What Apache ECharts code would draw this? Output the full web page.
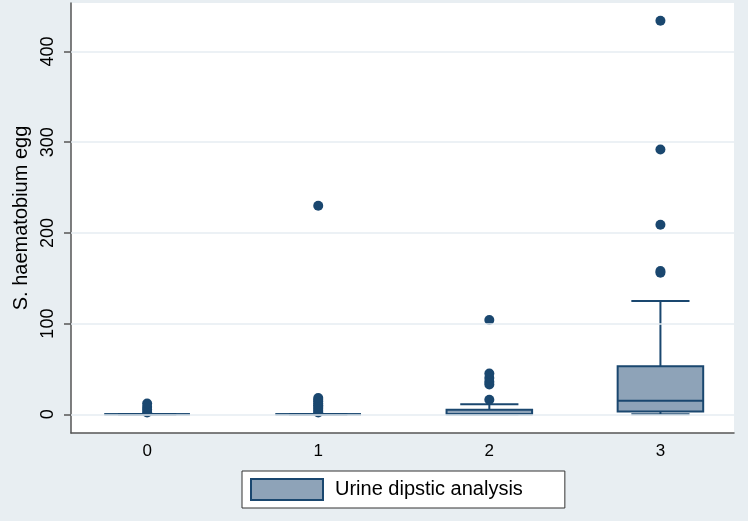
<!DOCTYPE html>
<html>
<head>
<meta charset="utf-8">
<script src="https://cdn.jsdelivr.net/npm/echarts@6/dist/echarts.min.js"></script>
<style>
  html, body { margin: 0; padding: 0; background: #e8eef2; }
  #chart { width: 748px; height: 521px; }
</style>
</head>
<body>
<div id="chart"></div>
<script>
// ---- Data ----
const categories = [0, 1, 2, 3];
// [min(whisker), Q1, median, Q3, max(whisker)]
const boxStats = [
  [0, 0, 0, 0, 0],
  [0, 0, 0, 0, 0],
  [0, 0, 0, 5, 11],
  [0, 3, 15, 53, 125]
];
const outliers0 = [2, 5, 8, 12];
const outliers1 = [2, 4, 6, 8, 10, 12, 14, 16, 18, 230];
const outliers2 = [16, 33, 36, 40, 45, 104];
const outliers3 = [156, 158, 209, 292, 434];
const yTicks = [0, 100, 200, 300, 400];
const seriesName = 'Urine dipstic analysis';
const yTitle = 'S. haematobium egg';

const outlierLists = [outliers0, outliers1, outliers2, outliers3];
const boxData = categories.map((c, i) => [c].concat(boxStats[i]));
const outlierData = [];
outlierLists.forEach((list, i) => list.forEach(v => outlierData.push([categories[i], v])));

const NAVY = '#1a476f';
const FILL = '#8ea3b8';
const BOX_W = 0.5;
const CAP_W = 0.34;
const FONT = 'Liberation Sans, Arial, sans-serif';

const chart = echarts.init(document.getElementById('chart'));
chart.setOption({
  backgroundColor: '#e8eef2',
  animation: false,
  textStyle: { fontFamily: FONT, color: '#000' },
  grid: {
    left: 71, right: 14, top: 3, bottom: 88,
    show: true, backgroundColor: '#ffffff', borderWidth: 0
  },
  legend: {
    show: true,
    left: 242, top: 471,
    data: [{ name: seriesName, icon: 'rect', itemStyle: { color: FILL, borderColor: NAVY, borderWidth: 2 } }],
    itemWidth: 72, itemHeight: 21, itemGap: 10,
    padding: [7, 42, 7, 8],
    backgroundColor: '#ffffff',
    borderColor: '#333', borderWidth: 1,
    textStyle: { fontSize: 20, fontFamily: FONT, color: '#000', padding: [0, 0, 0, 7] },
    selectedMode: false
  },
  xAxis: {
    type: 'value',
    min: -0.445, max: 3.43,
    axisLine: { show: true, onZero: false, lineStyle: { color: '#555', width: 1.5 } },
    axisTick: { show: false, customValues: categories },
    axisLabel: { customValues: categories, fontSize: 17, color: '#000', margin: 10, fontFamily: FONT },
    splitLine: { show: false }
  },
  yAxis: {
    type: 'value',
    min: -20.6, max: 453.5,
    name: yTitle,
    nameLocation: 'middle',
    nameGap: 37,
    nameTextStyle: { fontSize: 20, color: '#000', fontFamily: FONT, padding: [0, 0, 0, 0] },
    axisLine: { show: true, onZero: false, lineStyle: { color: '#555', width: 1.5 } },
    axisTick: { show: true, customValues: yTicks, length: 7, lineStyle: { color: '#555', width: 1.5 } },
    axisLabel: { customValues: yTicks, rotate: 90, fontSize: 18, color: '#000', margin: 14, fontFamily: FONT },
    splitLine: { show: false }
  },
  series: [
    {
      type: 'line',
      data: [],
      silent: true,
      z: 1,
      markLine: {
        silent: true,
        symbol: 'none',
        label: { show: false },
        lineStyle: { color: '#e6edf2', width: 1.5, type: 'solid' },
        data: yTicks.map(v => ({ yAxis: v }))
      }
    },
    {
      name: seriesName,
      type: 'custom',
      z: 3,
      itemStyle: { color: FILL, borderColor: NAVY, borderWidth: 2 },
      encode: { x: 0, y: [1, 2, 3, 4, 5] },
      data: boxData,
      renderItem: function (params, api) {
        const x = api.value(0);
        const lo = api.coord([x, api.value(1)]);
        const q1 = api.coord([x, api.value(2)]);
        const md = api.coord([x, api.value(3)]);
        const q3 = api.coord([x, api.value(4)]);
        const hi = api.coord([x, api.value(5)]);
        const bw = api.size([BOX_W, 0])[0];
        const cw = api.size([CAP_W, 0])[0];
        const cx = q1[0];
        const lineStyle = { stroke: NAVY, lineWidth: 2, fill: null };
        return {
          type: 'group',
          children: [
            { type: 'line', shape: { x1: cx, y1: q3[1], x2: cx, y2: hi[1] }, style: lineStyle },
            { type: 'line', shape: { x1: cx, y1: q1[1], x2: cx, y2: lo[1] }, style: lineStyle },
            { type: 'line', shape: { x1: cx - cw / 2, y1: hi[1], x2: cx + cw / 2, y2: hi[1] }, style: lineStyle },
            { type: 'line', shape: { x1: cx - cw / 2, y1: lo[1], x2: cx + cw / 2, y2: lo[1] }, style: lineStyle },
            { type: 'rect', shape: { x: cx - bw / 2, y: q3[1], width: bw, height: q1[1] - q3[1] },
              style: { fill: FILL, stroke: NAVY, lineWidth: 2 } },
            { type: 'line', shape: { x1: cx - bw / 2, y1: md[1], x2: cx + bw / 2, y2: md[1] }, style: lineStyle }
          ]
        };
      }
    },
    {
      name: 'outliers',
      type: 'scatter',
      z: 4,
      symbol: 'circle',
      symbolSize: 10,
      itemStyle: { color: NAVY, opacity: 1 },
      data: outlierData
    }
  ]
});
</script>
</body>
</html>
